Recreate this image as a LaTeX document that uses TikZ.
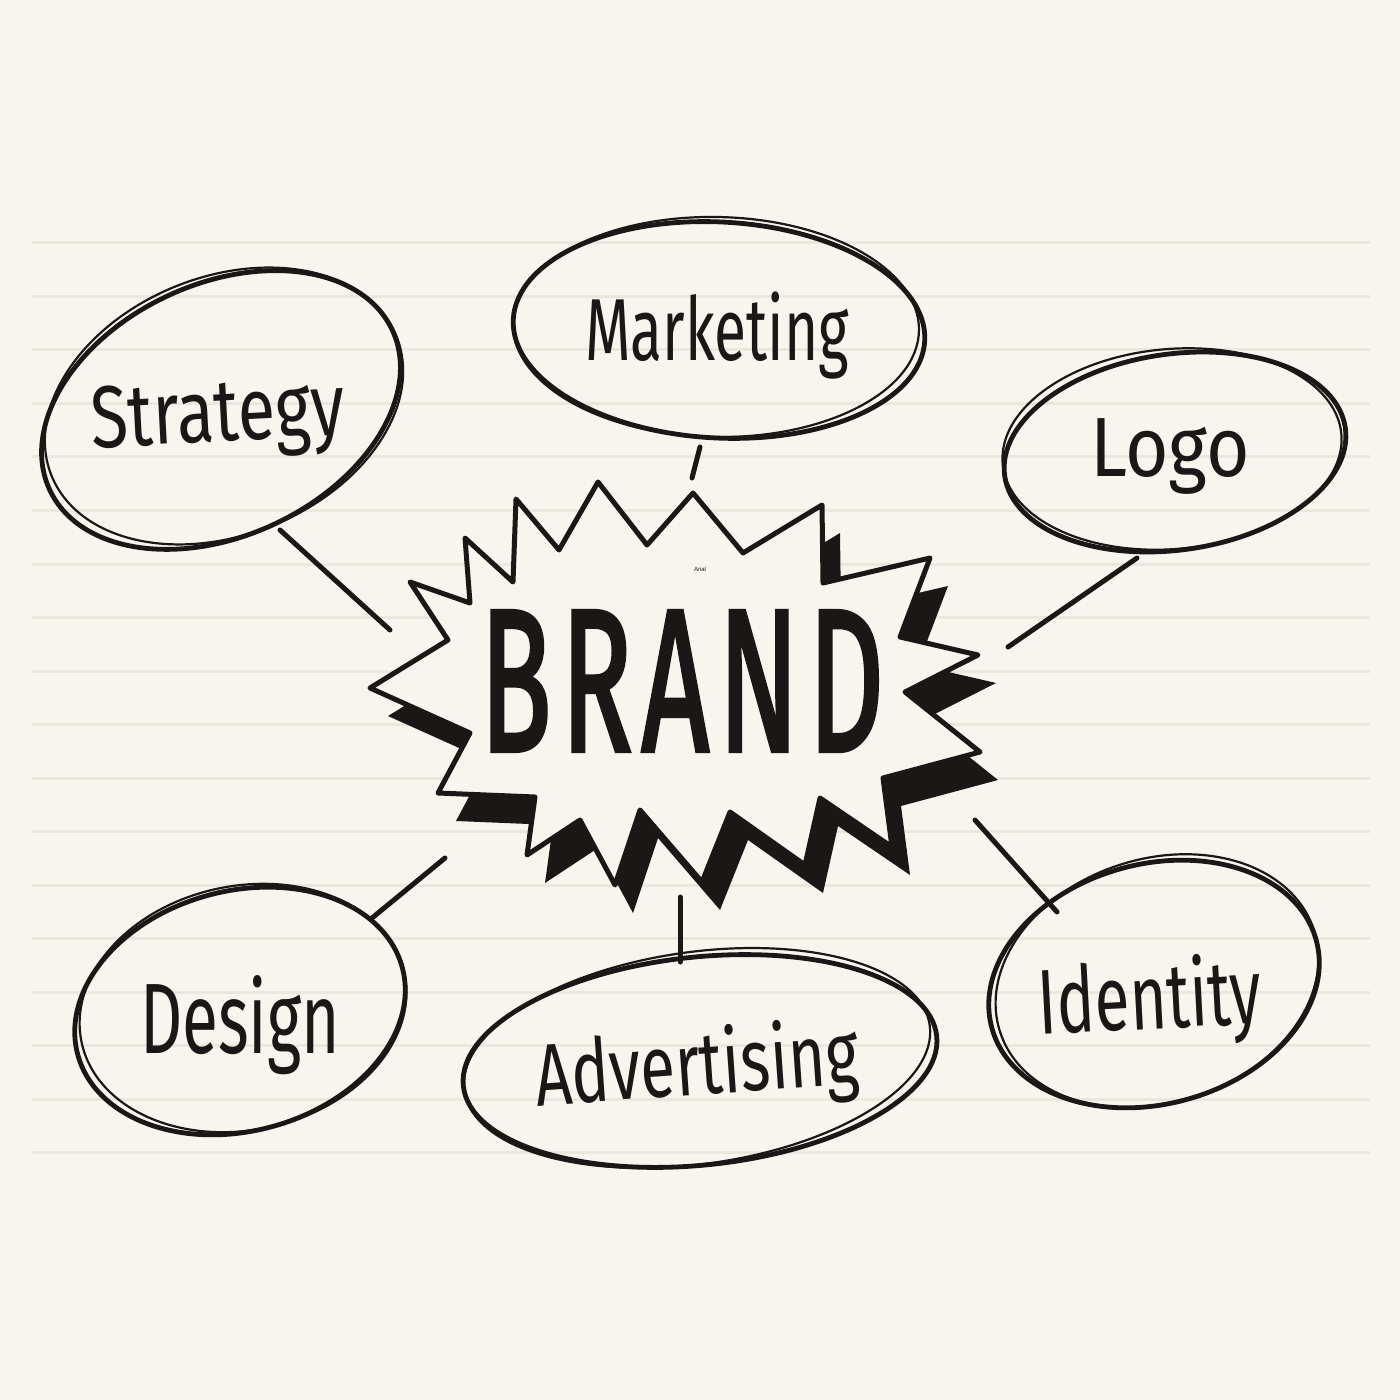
\documentclass[tikz,border=0pt]{standalone}
\usepackage{fontspec}
\setmainfont{Fira Sans}
\newfontfamily\arialfont{Liberation Sans}
\newfontfamily\brandfont[LetterSpace=8, FakeBold=2.5]{Fira Sans}
\usetikzlibrary{shapes.geometric}
\definecolor{paper}{HTML}{F8F4EE}
\definecolor{rulecol}{HTML}{EDE6DC}
\definecolor{ink}{HTML}{1C1717}
\newcommand{\starshape}[1]{\path[#1] (370,688) -- (448,640) -- (410,582) -- (470,603) -- (465,538) -- (513,582) -- (516,499) -- (559,550) -- (598,482) -- (647,545) -- (693,493) -- (743,553) -- (822,505) -- (823,583) -- (930,558) -- (900,637) -- (978,655) -- (905,692) -- (980,752) -- (883,778) -- (892,847) -- (820,798) -- (805,865) -- (730,812) -- (702,882) -- (640,810) -- (615,885) -- (580,820) -- (527,855) -- (535,797) -- (438,793) -- (470,733) -- cycle;}
\newcommand{\lab}[3]{\resizebox{#1}{\height}{\fontsize{#2}{#2}\selectfont #3}}
\begin{document}
\begin{tikzpicture}[x=0.5pt,y=-0.5pt,
  bubble/.style={ellipse, draw=ink, line width=2.4pt, inner sep=0pt},
  bubbletwo/.style={draw=ink, line width=1.1pt},
  conn/.style={draw=ink, line width=2.5pt, line cap=round},
  lbl/.style={text=ink, inner sep=0pt}]
\fill[paper] (0,0) rectangle (1400,1400);
\useasboundingbox (0,0) rectangle (1400,1400);
\foreach \k in {0,...,17} \draw[rulecol, line width=1.5pt] (32,243+53.5*\k) -- (1370,243+53.5*\k);

% bubbles
\node[bubble, minimum width=189pt, minimum height=126pt, rotate=25] (strategy) at (221,410) {};
\draw[bubbletwo, rotate around={22:(224,406)}] (224,406) ellipse [x radius=186, y radius=129];
\node[bubble, minimum width=206pt, minimum height=108pt, rotate=-3] (marketing) at (719,330) {};
\draw[bubbletwo, rotate around={-1:(716,327)}] (716,327) ellipse [x radius=203, y radius=110];
\node[bubble, minimum width=172pt, minimum height=98pt, rotate=8] (logo) at (1175,452) {};
\draw[bubbletwo, rotate around={5:(1172,449)}] (1172,449) ellipse [x radius=170, y radius=100];
\node[bubble, minimum width=168pt, minimum height=120pt, rotate=15] (design) at (240,1011) {};
\draw[bubbletwo, rotate around={12:(243,1008)}] (243,1008) ellipse [x radius=165, y radius=122];
\node[bubble, minimum width=238pt, minimum height=104pt, rotate=6] (advertising) at (700,1061) {};
\draw[bubbletwo, rotate around={8:(697,1058)}] (697,1058) ellipse [x radius=235, y radius=106];
\node[bubble, minimum width=168pt, minimum height=120pt, rotate=15] (identity) at (1154,984) {};
\draw[bubbletwo, rotate around={18:(1157,981)}] (1157,981) ellipse [x radius=165, y radius=122];

% star burst
\starshape{fill=ink, shift={(18,28)}}
\starshape{fill=paper, draw=ink, line width=2.5pt, line join=round}

% labels
\node[lbl, rotate=3] (tstrategy) at (218,420) {\lab{127pt}{44pt}{Strategy}};
\node[lbl] (tmarketing) at (717,336) {\lab{132pt}{44pt}{Marketing}};
\node[lbl] (tlogo) at (1170,457) {\lab{80pt}{42pt}{Logo}};
\node[lbl] (tdesign) at (240,1025) {\lab{100pt}{50pt}{Design}};
\node[lbl, rotate=4] (tadvertising) at (697,1070) {\lab{162pt}{44pt}{Advertising}};
\node[lbl, rotate=3] (tidentity) at (1150,1003) {\lab{112pt}{46pt}{Identity}};
\node[lbl] (brand) at (682,681) {\lab{202pt}{101pt}{\brandfont BRAND}};
\node[lbl, font=\arialfont\fontsize{3pt}{3.5pt}\selectfont] (arial) at (700,569) {Arial};

% connectors
\coordinate (s1) at (280,530); \coordinate (s2) at (390,630);
\coordinate (m1) at (700,447); \coordinate (m2) at (692,478);
\coordinate (l1) at (1137,558); \coordinate (l2) at (1008,647);
\coordinate (d1) at (445,858); \coordinate (d2) at (372,918);
\coordinate (a1) at (680,897); \coordinate (a2) at (680,962);
\coordinate (i1) at (975,820); \coordinate (i2) at (1057,912);
\draw[conn] (s1) -- (s2);
\draw[conn] (m1) -- (m2);
\draw[conn] (l1) -- (l2);
\draw[conn] (d1) -- (d2);
\draw[conn] (a1) -- (a2);
\draw[conn] (i1) -- (i2);
\end{tikzpicture}
\end{document}
